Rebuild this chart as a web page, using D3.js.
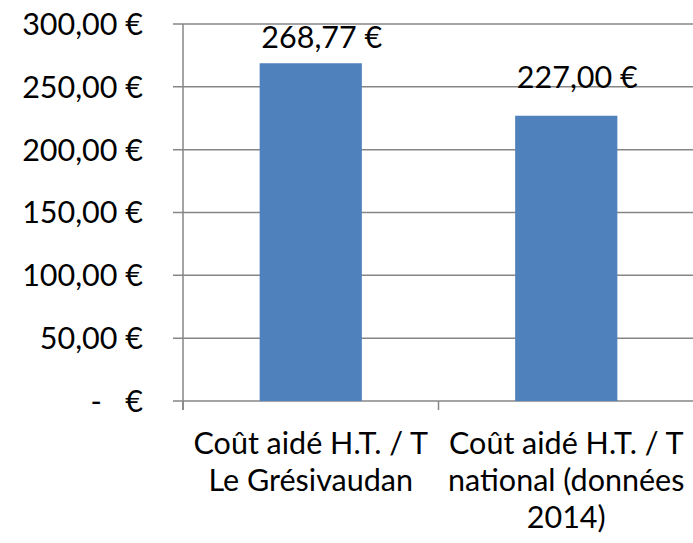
<!DOCTYPE html>
<html>
<head>
<meta charset="utf-8">
<script src="https://cdn.jsdelivr.net/npm/d3@7"></script>
<style>
  body { margin: 0; background: #fff; }
  text { font-family: Lato, "Open Sans", sans-serif; fill: #000; }
</style>
</head>
<body>
<div id="chart"></div>
<script>
// data
var categories = ["Coût aidé H.T. / T Le Grésivaudan", "Coût aidé H.T. / T national (données 2014)"];
var categoryLines = [
  ["Coût aidé H.T. / T", "Le Grésivaudan"],
  ["Coût aidé H.T. / T", "national (données", "2014)"]
];
var values = [268.77, 227.00];
var yTicks = [0, 50, 100, 150, 200, 250, 300];

var width = 693, height = 543;
var margin = { top: 24, right: 0, bottom: 142, left: 183 };
var fontSize = "30.5px";

var svg = d3.select("#chart").append("svg")
  .attr("width", width)
  .attr("height", height);

var x = d3.scaleBand()
  .domain(categories)
  .range([margin.left, width + 1])
  .paddingInner(0.6)
  .paddingOuter(0.3);

var y = d3.scaleLinear()
  .domain([0, 300])
  .range([height - margin.bottom, margin.top]);

// french euro format
function euro(v) {
  if (v === 0) return "-   €";
  return v.toFixed(2).replace(".", ",") + " €";
}

// gridlines + y ticks
var grid = svg.append("g");
grid.selectAll("line.grid")
  .data(yTicks)
  .enter().append("line")
    .attr("class", "grid")
    .attr("x1", margin.left - 10)
    .attr("x2", width)
    .attr("y1", function(d) { return y(d); })
    .attr("y2", function(d) { return y(d); })
    .style("stroke", "#868686")
    .style("stroke-width", 1.5);

grid.selectAll("text")
  .data(yTicks)
  .enter().append("text")
    .attr("x", 143)
    .attr("y", function(d) { return y(d); })
    .attr("dy", "0.36em")
    .attr("text-anchor", "end")
    .style("font-size", fontSize)
    .style("white-space", "pre")
    .text(euro);

// y axis line
svg.append("line")
  .attr("x1", margin.left).attr("x2", margin.left)
  .attr("y1", margin.top).attr("y2", y(0) + 9)
  .style("stroke", "#868686")
  .style("stroke-width", 1.5);

// category tick marks (band boundaries)
var step = x.step();
var boundaries = [margin.left, margin.left + step * 1];
svg.selectAll("line.ctick")
  .data(boundaries)
  .enter().append("line")
    .attr("class", "ctick")
    .attr("x1", function(d) { return d; })
    .attr("x2", function(d) { return d; })
    .attr("y1", y(0))
    .attr("y2", y(0) + 9)
    .style("stroke", "#868686")
    .style("stroke-width", 1.5);

// bars
svg.selectAll("rect.bar")
  .data(values)
  .enter().append("rect")
    .attr("class", "bar")
    .attr("x", function(d, i) { return x(categories[i]); })
    .attr("y", function(d) { return y(d); })
    .attr("width", x.bandwidth())
    .attr("height", function(d) { return y(0) - y(d); })
    .style("fill", "#4F81BD");

// value labels (clamped inside plot area, like excel)
svg.selectAll("text.val")
  .data(values)
  .enter().append("text")
    .attr("class", "val")
    .attr("x", function(d, i) { return x(categories[i]) + x.bandwidth() / 2 + 11; })
    .attr("y", function(d) { return Math.max(y(d) - 28, margin.top + 24); })
    .attr("text-anchor", "middle")
    .style("font-size", fontSize)
    .text(euro);

// category labels
var cat = svg.selectAll("g.cat")
  .data(categories)
  .enter().append("g")
    .attr("class", "cat")
    .attr("transform", function(d) { return "translate(" + (x(d) + x.bandwidth() / 2) + ",0)"; });

cat.each(function(d, i) {
  d3.select(this).selectAll("text")
    .data(categoryLines[i])
    .enter().append("text")
      .attr("x", 0)
      .attr("y", function(t, j) { return 454 + j * 37; })
      .attr("text-anchor", "middle")
      .style("font-size", fontSize)
      .text(function(t) { return t; });
});
</script>
</body>
</html>
